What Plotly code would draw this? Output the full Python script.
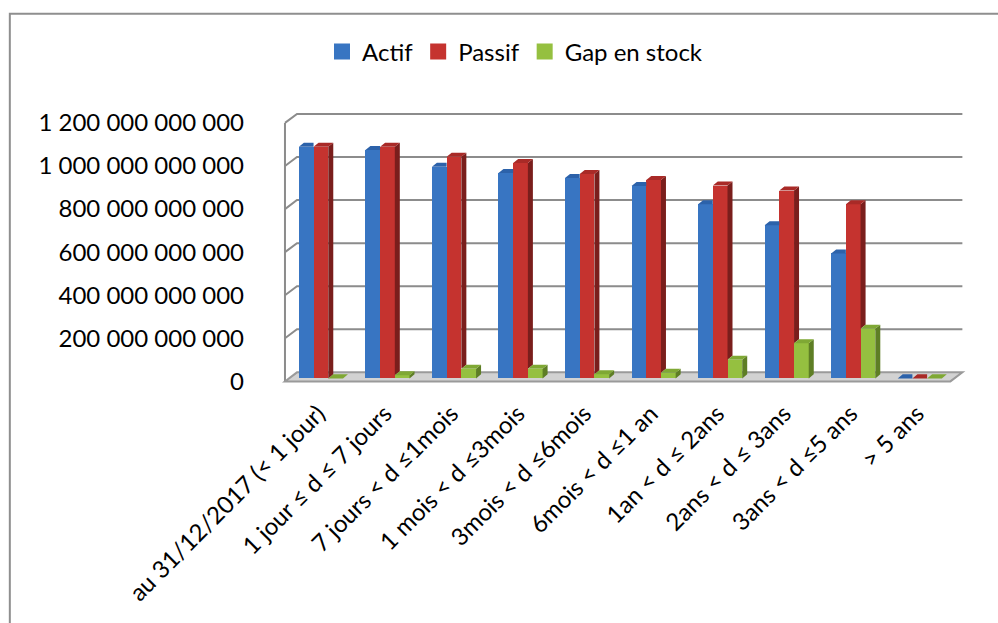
import plotly.graph_objects as go

# ---------------- data ----------------
categories = [
    "au 31/12/2017 (< 1 jour)",
    "1 jour ≤ d ≤ 7 jours",
    "7 jours < d ≤1mois",
    "1 mois < d ≤3mois",
    "3mois < d ≤6mois",
    "6mois < d ≤1 an",
    "1an < d ≤ 2ans",
    "2ans < d ≤ 3ans",
    "3ans < d ≤5 ans",
    "> 5 ans",
]
actif = [1075e9, 1060e9, 983e9, 953e9, 930e9, 893e9, 809e9, 711e9, 580e9, 0]
passif = [1075e9, 1075e9, 1029e9, 1000e9, 949e9, 921e9, 895e9, 872e9, 809e9, 0]
gap = [0, 15e9, 45e9, 45e9, 19e9, 26e9, 87e9, 163e9, 230e9, 0]
series_names = ["Actif", "Passif", "Gap en stock"]
y_tickvals = [0, 200e9, 400e9, 600e9, 800e9, 1000e9, 1200e9]
y_ticktext = ["0", "200 000 000 000", "400 000 000 000", "600 000 000 000",
              "800 000 000 000", "1 000 000 000 000", "1 200 000 000 000"]

# ---------------- geometry (pixels -> axis units) ----------------
W_PX, H_PX = 998, 623
PX_X = 66.5              # px per category
PX_Y = 43 / 200e9        # px per value unit
X_LEFT_PX = 285          # pixel of x = -0.5 (front plane)
Y_ZERO_PX = 381          # pixel of y = 0 (front plane)
XR = [-0.62, 9.75]
YR = [-40e9, 1260e9]
plot_l = X_LEFT_PX + (XR[0] + 0.5) * PX_X
plot_r = X_LEFT_PX + (XR[1] + 0.5) * PX_X
plot_t = Y_ZERO_PX - YR[1] * PX_Y
plot_b = Y_ZERO_PX - YR[0] * PX_Y

DX = 12 / PX_X           # wall depth (x units)
DY = 9 / PX_Y            # wall depth (value units)
BW = 14.7 / PX_X         # bar width
BDX = 5 / PX_X           # bar depth x
BDY = 4 / PX_Y           # bar depth y
SX = 0.04                # bar shift inside depth
BASE = 3 / PX_Y          # bar base shift inside depth

front = ["#3875C2", "#C5332F", "#95C040"]
top_c = ["#2C62AA", "#A92A27", "#7FA834"]
side_c = ["#244F89", "#7A1E1C", "#5E7E25"]

values = [actif, passif, gap]
n = len(categories)

fig = go.Figure()

# front faces (real bars)
centers = []
for s in range(3):
    xc = [i + SX + (s - 1) * BW for i in range(n)]
    centers.append(xc)
    fig.add_trace(go.Bar(
        x=xc, y=values[s], base=[BASE] * n, width=BW,
        name=series_names[s], marker=dict(color=front[s], line=dict(width=0)),
        showlegend=False, legendgroup=series_names[s], hoverinfo="skip"))

# 3D top and side faces
for s in range(3):
    tx, ty, sx_, sy_ = [], [], [], []
    for i in range(n):
        L = centers[s][i] - BW / 2
        R = centers[s][i] + BW / 2
        h = BASE + values[s][i]
        hn = BASE + values[s + 1][i] if s < 2 else None
        if hn is not None and hn >= h:
            tx += [L, R, R, L + BDX, L, None]
            ty += [h, h, h + BDY, h + BDY, h, None]
        else:
            tx += [L, R, R + BDX, L + BDX, L, None]
            ty += [h, h, h + BDY, h + BDY, h, None]
            lo = hn if hn is not None else BASE
            sx_ += [R, R, R + BDX, R + BDX, R, None]
            sy_ += [lo, h, h + BDY, lo + BDY, lo, None]
    fig.add_trace(go.Scatter(x=sx_, y=sy_, mode="lines", fill="toself",
                             fillcolor=side_c[s], line=dict(width=0),
                             showlegend=False, hoverinfo="skip"))
    fig.add_trace(go.Scatter(x=tx, y=ty, mode="lines", fill="toself",
                             fillcolor=top_c[s], line=dict(width=0),
                             showlegend=False, hoverinfo="skip"))

# legend entries (large square keys, as in the original)
for s in range(3):
    fig.add_trace(go.Scatter(x=[None], y=[None], mode="markers", name=series_names[s],
                             legendgroup=series_names[s],
                             marker=dict(symbol="square", size=16, color=front[s],
                                         line=dict(width=0)),
                             hoverinfo="skip"))

# walls / gridlines / floor
shapes = []
GRID = "#8C8C8C"
x_a, x_b = -0.5, n - 0.5
for v in y_tickvals[1:]:
    shapes.append(dict(type="path", xref="x", yref="y", layer="below",
                       path=f"M{x_a},{v} L{x_a + DX},{v + DY} L{x_b + DX},{v + DY}",
                       line=dict(color=GRID, width=2)))
# left wall front edge
shapes.append(dict(type="line", xref="x", yref="y", layer="below",
                   x0=x_a, x1=x_a, y0=0, y1=y_tickvals[-1],
                   line=dict(color=GRID, width=2)))
# floor
shapes.append(dict(type="path", xref="x", yref="y", layer="below",
                   path=f"M{x_a},0 L{x_b},0 L{x_b + DX},{DY} L{x_a + DX},{DY} Z",
                   fillcolor="#D2D2D2", line=dict(color="#9A9A9A", width=2)))
# chart border (outer frame)
def px2paper_x(p):
    return (p - plot_l) / (plot_r - plot_l)

def px2paper_y(p):
    return (plot_b - p) / (plot_b - plot_t)

shapes.append(dict(type="path", xref="paper", yref="paper", layer="below",
                   path=(f"M{px2paper_x(10)},{px2paper_y(H_PX + 5)} "
                         f"L{px2paper_x(10)},{px2paper_y(14)} "
                         f"L{px2paper_x(W_PX + 5)},{px2paper_y(14)}"),
                   line=dict(color="#8F8F8F", width=2)))

FONT = "Lato, 'Open Sans', sans-serif"
fig.update_layout(
    width=W_PX, height=H_PX,
    margin=dict(l=plot_l, r=W_PX - plot_r, t=plot_t, b=H_PX - plot_b, pad=0),
    paper_bgcolor="white", plot_bgcolor="rgba(0,0,0,0)",
    barmode="overlay", bargap=0,
    font=dict(family=FONT, size=24, color="#000000"),
    shapes=shapes,
    showlegend=True,
    legend=dict(orientation="h", xref="container", yref="container",
                x=515 / W_PX, y=1 - 52 / H_PX, xanchor="center", yanchor="middle",
                font=dict(family=FONT, size=24, color="#000000"),
                itemsizing="trace", itemwidth=30, traceorder="normal",
                bgcolor="rgba(0,0,0,0)"),
    xaxis=dict(range=XR, tickvals=list(range(n)), ticktext=categories,
               tickangle=-45, showgrid=False, zeroline=False, showline=False,
               ticks="", automargin=False, fixedrange=True, ticklabelstandoff=4,
               tickfont=dict(family=FONT, size=24, color="#000000")),
    yaxis=dict(range=YR, tickvals=y_tickvals, ticktext=y_ticktext,
               showgrid=False, zeroline=False, showline=False, ticks="",
               automargin=False, fixedrange=True, ticklabelstandoff=32,
               tickfont=dict(family=FONT, size=24, color="#000000")),
)

fig.write_html("out.html")
